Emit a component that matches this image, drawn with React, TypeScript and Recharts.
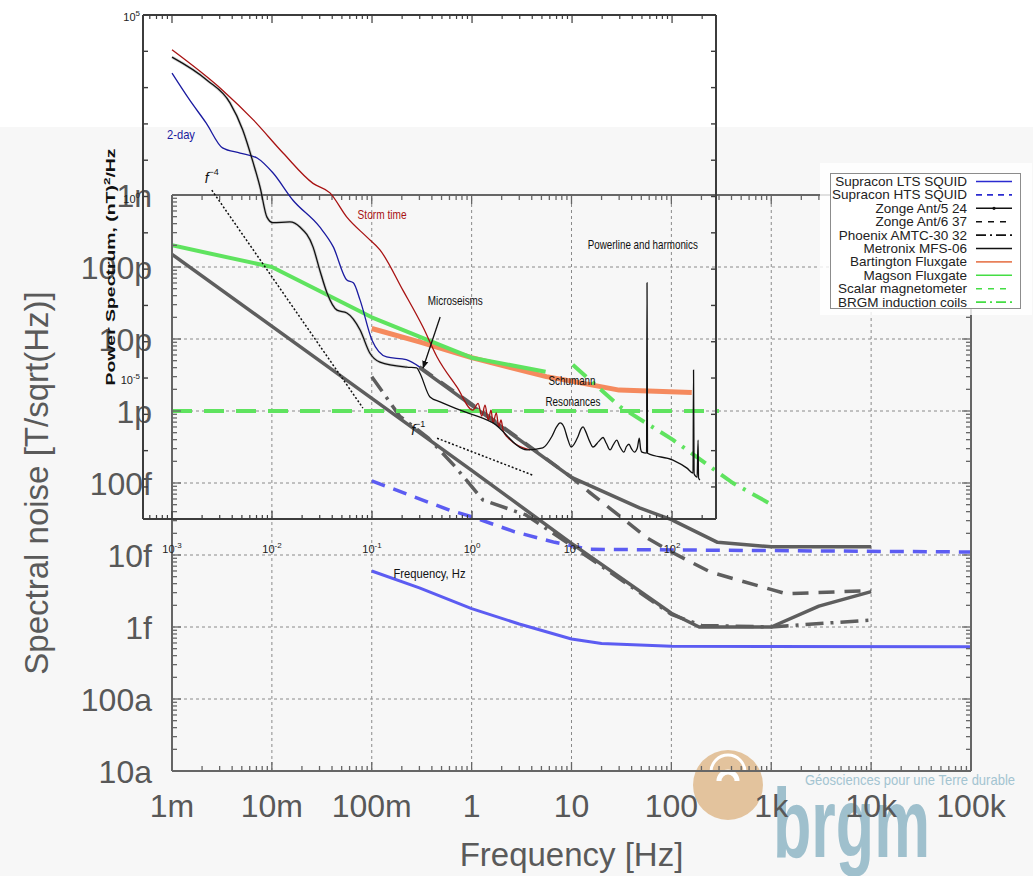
import React from 'react';
import { LineChart, Line, XAxis, YAxis, ReferenceLine, ReferenceDot, Legend } from 'recharts';

const W = 1033;
const H = 876;
const SANS = '"Liberation Sans", Arial, Helvetica, sans-serif';
const NARROW = '"Liberation Sans Narrow", "Liberation Sans", Arial, sans-serif';

// ---------------- main chart: axes ----------------
const xMajorTicks = [1e-3, 1e-2, 1e-1, 1, 10, 100, 1e3, 1e4, 1e5];
const xTickLabels = ['1m', '10m', '100m', '1', '10', '100', '1k', '10k', '100k'];
const yMajorTicks = [1e-9, 1e-10, 1e-11, 1e-12, 1e-13, 1e-14, 1e-15, 1e-16, 1e-17];
const yTickLabels = ['1n', '100p', '10p', '1p', '100f', '10f', '1f', '100a', '10a'];

// ---------------- main chart: series (T/sqrt(Hz)) ----------------
const ltsFreq = [0.1, 0.3, 1, 3, 10, 20, 100, 1e5];
const ltsNoise = [6.0e-15, 3.5e-15, 1.8e-15, 1.1e-15, 6.8e-16, 5.9e-16, 5.4e-16, 5.3e-16];
const htsFreq = [0.1, 0.6, 1, 2.7, 6.8, 15, 1e5];
const htsNoise = [1.07e-13, 4.2e-14, 3.4e-14, 2.1e-14, 1.5e-14, 1.2e-14, 1.1e-14];
const zonge5Freq = [1e-3, 1, 10, 100, 190, 1000, 3000, 1e4];
const zonge5Noise = [1.5e-10, 1.5e-13, 1.45e-14, 1.55e-15, 1.0e-15, 1.0e-15, 1.95e-15, 3.1e-15];
const zonge6Freq = [0.3, 1, 3, 10, 15, 20, 58, 100, 245, 1400, 1e4];
const zonge6Noise = [4.1e-12, 1.25e-12, 4.1e-13, 1.2e-13, 7.5e-14, 5.5e-14, 1.7e-14, 1.1e-14, 5.8e-15, 2.9e-15, 3.2e-15];
const phoenixFreq = [0.1, 0.19, 0.37, 0.68, 1.3, 3.5, 10, 52, 100, 200, 1000, 1e4];
const phoenixNoise = [3.0e-12, 8.5e-13, 4.2e-13, 1.7e-13, 5.8e-14, 3.6e-14, 1.35e-14, 2.8e-15, 1.5e-15, 1.05e-15, 1.0e-15, 1.25e-15];
const metronixFreq = [0.3, 1, 3, 10, 48, 100, 290, 1000, 1e4];
const metronixNoise = [4.0e-12, 1.2e-12, 4.0e-13, 1.2e-13, 4.5e-14, 3.1e-14, 1.5e-14, 1.3e-14, 1.3e-14];
const bartingtonFreq = [0.1, 0.3, 1, 5.6, 10, 30, 160];
const bartingtonNoise = [1.4e-11, 9.1e-12, 5.5e-12, 3.0e-12, 2.6e-12, 1.95e-12, 1.8e-12];
const magsonFreq = [1e-3, 1e-2, 0.1, 0.48, 1, 5.5];
const magsonNoise = [2.0e-10, 1.0e-10, 2.0e-11, 8.3e-12, 5.5e-12, 3.5e-12];
const scalarFreq = [1e-3, 300];
const scalarNoise = [1e-12, 1e-12];
const brgmFreq = [10.3, 30.5, 103, 413, 1040];
const brgmNoise = [4.4e-12, 1.15e-12, 4.0e-13, 1.0e-13, 4.9e-14];

// ---------------- inset: power spectrum (nT^2/Hz) ----------------
const insetXMajor = [1e-3, 1e-2, 1e-1, 1, 10, 100];
const insetXExp = ['-3', '-2', '-1', '0', '1', '2'];
const insetYLabelTicks = [1e5, 1, 1e-5];
const insetYExp = ['5', '0', '-5'];

const stormFreq = [0.001, 0.0032, 0.0065, 0.0129, 0.0257, 0.038, 0.056, 0.089, 0.12, 0.204, 0.324, 0.447, 0.708, 1.02, 1.15, 1.25, 1.35, 1.45, 1.55, 1.62, 1.75, 1.85, 1.95, 2.05, 2.24, 3.8];
const stormPower = [1.1e4, 850, 129, 15.8, 2.3, 1.26, 0.27, 0.076, 0.034, 2.6e-3, 2.5e-4, 3.8e-5, 5.6e-6, 1.3e-6, 2.0e-6, 9e-7, 1.8e-6, 7e-7, 1.3e-6, 5.8e-7, 1.1e-6, 4.5e-7, 7e-7, 3.5e-7, 2.4e-7, 1.05e-7];
const twoDayFreq = [0.001, 0.0015, 0.0022, 0.0032, 0.0048, 0.0071, 0.0102, 0.0162, 0.030, 0.041, 0.056, 0.065, 0.076, 0.10, 0.14, 0.22, 0.30];
const twoDayPower = [2.5e3, 457, 105, 21.9, 15.8, 11.5, 4.5, 0.79, 0.145, 0.041, 5.0e-3, 4.2e-3, 1.4e-3, 1.1e-4, 3.8e-5, 3.2e-5, 2.0e-5];
const quietFreq = [0.001, 0.00224, 0.0038, 0.0051, 0.0065, 0.0076, 0.0089, 0.0102, 0.0151, 0.019, 0.0257, 0.030, 0.0355, 0.0447, 0.056, 0.076, 0.095, 0.12, 0.224, 0.28, 0.30, 0.38, 0.48, 0.76, 1.62, 3.55, 5.1, 6.3, 7.0, 7.6, 8.3, 9.0, 9.8, 11.5, 12.3, 12.9, 13.6, 15, 16.2, 18.5, 20.4, 22, 24, 26, 28, 30, 33, 35, 37, 39.5, 42, 45, 47, 48.5, 50, 55.6, 56.2, 56.8, 102, 141, 162, 164, 166, 178, 182, 184, 190];
const quietPower = [6.9e3, 1.6e3, 380, 68, 8.3, 1.8, 0.27, 0.19, 0.20, 0.145, 0.041, 9.5e-3, 2.2e-3, 7.4e-4, 6.2e-4, 2.1e-4, 4.9e-5, 2.75e-5, 2.0e-5, 1.9e-5, 1.4e-5, 3.0e-6, 2.2e-6, 1.3e-6, 5.8e-7, 1.05e-7, 1.2e-7, 2.5e-7, 4.5e-7, 5.8e-7, 4.5e-7, 2.2e-7, 1.26e-7, 2.5e-7, 4.0e-7, 4.5e-7, 3.5e-7, 1.8e-7, 1.26e-7, 1.8e-7, 2.3e-7, 1.6e-7, 1.05e-7, 1.5e-7, 1.95e-7, 1.3e-7, 9.1e-8, 1.3e-7, 1.5e-7, 1.1e-7, 9.1e-8, 1.2e-7, 2.2e-7, 1.1e-7, 9.1e-8, 8.5e-8, 4.2e-3, 8.5e-8, 5.5e-8, 3.3e-8, 2.4e-8, 1.66e-5, 2.3e-8, 1.86e-8, 1.95e-7, 1.78e-8, 1.55e-8];
const fMinus4Freq = [0.0025, 0.081];
const fMinus4Power = [1.5, 1.5e-6];
const fMinus1Freq = [0.447, 4.07];
const fMinus1Power = [2.2e-7, 2.1e-8];
const arrowFreq = [0.48, 0.324];
const arrowPower = [4.8e-4, 1.9e-5];

const noteText = ['2-day', 'Storm time', 'Microseisms', 'Powerline and harmonics', 'Schumann', 'Resonances'];
const noteFreq = [0.00123, 0.126, 0.68, 51, 10, 10.2];
const notePower = [52, 0.31, 1.4e-3, 0.049, 8.8e-6, 2.3e-6];
const noteColor = ['#1a1aa0', '#a81212', '#111', '#111', '#111', '#111'];
const noteWidth = [28, 49, 55, 110, 47, 55];
const powerLawText = ['\u22124', '\u22121'];
const powerLawFreq = [0.0025, 0.29];
const powerLawPower = [3.2, 3.7e-7];

// ---------------- helpers ----------------
const pts = (f: number[], v: number[]) => f.map((x, i) => ({ f: x, v: v[i] }));
const lg = (v: number) => Math.log10(v);
const majorIndex = (v: number, majors: number[]) => majors.findIndex((m) => Math.abs(lg(m) - lg(v)) < 1e-6);
const buildTicks = (a: number, b: number) => {
  const t: number[] = [];
  for (let d = a; d <= b; d++) {
    t.push(Math.pow(10, d));
    if (d < b) for (let k = 2; k <= 9; k++) t.push(k * Math.pow(10, d));
  }
  return t;
};
const mainXTicks = buildTicks(-3, 5);
const mainYTicks = buildTicks(-17, -9);
const insetXTicks = [6e-4, 7e-4, 8e-4, 9e-4, ...buildTicks(-3, 2), 200];
const insetYTicks: number[] = [];
for (let d = -8; d <= 5; d++) insetYTicks.push(Math.pow(10, d));

const mainSeries = [
  { name: 'Supracon LTS SQUID', data: pts(ltsFreq, ltsNoise), color: '#5c5cf2', width: 3, dash: undefined, lc: '#2b2bd0', ld: undefined },
  { name: 'Supracon HTS SQUID', data: pts(htsFreq, htsNoise), color: '#5c5cf2', width: 3.5, dash: '14 9', lc: '#2b2bd0', ld: '6 5' },
  { name: 'Zonge Ant/5 24', data: pts(zonge5Freq, zonge5Noise), color: '#5e5e5e', width: 3.5, dash: undefined, lc: '#111', ld: undefined },
  { name: 'Zonge Ant/6 37', data: pts(zonge6Freq, zonge6Noise), color: '#5e5e5e', width: 3.5, dash: '16 10', lc: '#111', ld: '6 6' },
  { name: 'Phoenix AMTC-30 32', data: pts(phoenixFreq, phoenixNoise), color: '#5e5e5e', width: 3.5, dash: '18 7 3 7', lc: '#111', ld: '10 4 2 4' },
  { name: 'Metronix MFS-06', data: pts(metronixFreq, metronixNoise), color: '#5e5e5e', width: 3.5, dash: undefined, lc: '#111', ld: undefined },
  { name: 'Bartington Fluxgate', data: pts(bartingtonFreq, bartingtonNoise), color: '#f58a5e', width: 5, dash: undefined, lc: '#e8805a', ld: undefined },
  { name: 'Magson Fluxgate', data: pts(magsonFreq, magsonNoise), color: '#5fe35f', width: 4, dash: undefined, lc: '#44dd44', ld: undefined },
  { name: 'Scalar magnetometer', data: pts(scalarFreq, scalarNoise), color: '#5fe35f', width: 4, dash: '20 12', lc: '#44dd44', ld: '6 6' },
  { name: 'BRGM induction coils', data: pts(brgmFreq, brgmNoise), color: '#5fe35f', width: 4, dash: '18 8 3 8', lc: '#44dd44', ld: '10 4 2 4' },
];

// ---------------- tick renderers ----------------
const AXIS = '#666';
const TICK_FONT = 32;
const MainBottomTick = (p: any) => {
  const mi = majorIndex(p.payload.value, xMajorTicks);
  return (
    <g>
      <line x1={p.x} x2={p.x} y1={p.y} y2={p.y - (mi >= 0 ? 9 : 5)} stroke={AXIS} strokeWidth={1.3} />
      {mi >= 0 && (
        <text x={p.x} y={p.y + 46} textAnchor="middle" fontSize={TICK_FONT} fill="#585858" fontFamily={SANS}>{xTickLabels[mi]}</text>
      )}
    </g>
  );
};
const MainTopTick = (p: any) => {
  const mi = majorIndex(p.payload.value, xMajorTicks);
  return <line x1={p.x} x2={p.x} y1={p.y} y2={p.y + (mi >= 0 ? 9 : 5)} stroke={AXIS} strokeWidth={1.3} />;
};
const MainLeftTick = (p: any) => {
  const mi = majorIndex(p.payload.value, yMajorTicks);
  return (
    <g>
      <line x1={p.x} x2={p.x + (mi >= 0 ? 9 : 5)} y1={p.y} y2={p.y} stroke={AXIS} strokeWidth={1.3} />
      {mi >= 0 && (
        <text x={p.x - 20} y={p.y + 11.5} textAnchor="end" fontSize={TICK_FONT} fill="#585858" fontFamily={SANS}>{yTickLabels[mi]}</text>
      )}
    </g>
  );
};
const MainRightTick = (p: any) => {
  const mi = majorIndex(p.payload.value, yMajorTicks);
  return <line x1={p.x} x2={p.x - (mi >= 0 ? 9 : 5)} y1={p.y} y2={p.y} stroke={AXIS} strokeWidth={1.3} />;
};

const INK = '#3c3c3c';
const InsetBottomTick = (p: any) => {
  const mi = majorIndex(p.payload.value, insetXMajor);
  return (
    <g>
      <line x1={p.x} x2={p.x} y1={p.y} y2={p.y - (mi >= 0 ? 8 : 4)} stroke={INK} strokeWidth={1.2} />
      {mi >= 0 && (
        <text x={p.x} y={p.y + 34} textAnchor="middle" fontSize={11} fill="#222" fontFamily={NARROW}>
          <tspan>10</tspan>
          <tspan dy={-5} fontSize={8}>{insetXExp[mi]}</tspan>
        </text>
      )}
    </g>
  );
};
const InsetTopTick = (p: any) => {
  const mi = majorIndex(p.payload.value, insetXMajor);
  return <line x1={p.x} x2={p.x} y1={p.y} y2={p.y + (mi >= 0 ? 8 : 4)} stroke={INK} strokeWidth={1.2} />;
};
const InsetLeftTick = (p: any) => {
  const mi = majorIndex(p.payload.value, insetYLabelTicks);
  return (
    <g>
      <line x1={p.x} x2={p.x + 5} y1={p.y} y2={p.y} stroke={INK} strokeWidth={1.4} />
      {mi >= 0 && (
        <text x={p.x - 3} y={p.y + 6} textAnchor="end" fontSize={11} fill="#222" fontFamily={NARROW}>
          <tspan>10</tspan>
          <tspan dy={-5} fontSize={8}>{insetYExp[mi]}</tspan>
        </text>
      )}
    </g>
  );
};
const InsetRightTick = (p: any) => <line x1={p.x} x2={p.x - 5} y1={p.y} y2={p.y} stroke={INK} strokeWidth={1.4} />;

// ---------------- labels ----------------
const mainXTitle = (p: any) => {
  const vb = p.viewBox || { x: 172, y: 771, width: 799, height: 0 };
  return (
    <text x={vb.x + vb.width / 2} y={vb.y + 95} textAnchor="middle" fontSize={33} fill="#5a5a5a" fontFamily={SANS}>Frequency [Hz]</text>
  );
};
const mainYTitle = (p: any) => {
  const vb = p.viewBox || { x: 171, y: 195, width: 1, height: 576 };
  const x = vb.x - 123;
  const y = vb.y + vb.height / 2;
  return (
    <text x={x} y={y} transform={`rotate(-90 ${x} ${y})`} textAnchor="middle" fontSize={33} fill="#5a5a5a" fontFamily={SANS}>Spectral noise [T/sqrt(Hz)]</text>
  );
};
const insetXTitle = (p: any) => {
  const vb = p.viewBox || { x: 143, y: 519, width: 573, height: 1 };
  return (
    <text x={vb.x + vb.width / 2} y={vb.y + 59} textAnchor="middle" fontSize={13} fill="#111" fontFamily={NARROW} textLength={72} lengthAdjust="spacingAndGlyphs">Frequency, Hz</text>
  );
};
const insetYTitle = (p: any) => {
  const vb = p.viewBox || { x: 142, y: 15, width: 1, height: 504 };
  const x = vb.x - 27;
  const y = vb.y + vb.height / 2;
  return (
    <text x={x} y={y} transform={`rotate(-90 ${x} ${y})`} textAnchor="middle" fontSize={13} fontWeight="bold" fill="#111" fontFamily={SANS} textLength={237} lengthAdjust="spacingAndGlyphs">
      Power Spectrum, (nT)<tspan dy={-5} fontSize={9}>2</tspan><tspan dy={5}>/Hz</tspan>
    </text>
  );
};

const NoteLabel = (p: any) => {
  const vb = p.viewBox || { x: 0, y: 0 };
  const i = p.idx;
  return (
    <text x={vb.x} y={vb.y} textAnchor="middle" dominantBaseline="central" fontSize={13} fill={noteColor[i]} fontFamily={NARROW} textLength={noteWidth[i]} lengthAdjust="spacingAndGlyphs">{noteText[i]}</text>
  );
};
const PowerLawLabel = (p: any) => {
  const vb = p.viewBox || { x: 0, y: 0 };
  const i = p.idx;
  return (
    <text x={vb.x} y={vb.y + 5} textAnchor="middle" fontSize={14} fill="#111" fontFamily={SANS}>
      <tspan fontStyle="italic">f</tspan>
      <tspan dy={-8} fontSize={9}>{powerLawText[i]}</tspan>
    </text>
  );
};

const LegendBox = () => (
  <svg width={212} height={152} style={{ display: 'block' }}>
    <rect x={0} y={0} width={212} height={152} fill="#ffffff" opacity={0.8} />
    <rect x={10.5} y={10.5} width={190} height={135} fill="#fff" stroke="#8c8c8c" strokeWidth={1} />
    {mainSeries.map((s, i) => {
      const cy = 18.5 + i * 13.4;
      return (
        <g key={s.name}>
          <text x={147} y={cy} textAnchor="end" dominantBaseline="central" fontSize={13.5} fill="#222" fontFamily={SANS}>{s.name}</text>
          <line x1={156} x2={192} y1={cy} y2={cy} stroke={s.lc} strokeWidth={1.6} strokeDasharray={s.ld} />
          {i === 2 && <circle cx={174} cy={cy} r={1.6} fill={s.lc} />}
        </g>
      );
    })}
  </svg>
);

const xGrid = xMajorTicks.slice(1, -1);
const yGrid = yMajorTicks.slice(1, -1);

export default function App() {
  const quiet = pts(quietFreq, quietPower);
  return (
    <div
      style={{
        position: 'absolute', left: 0, top: 0, width: W, height: H, overflow: 'hidden',
        background: 'linear-gradient(#ffffff 0px, #ffffff 127px, #f7f7f7 127px, #f7f7f7 100%)',
      }}
    >
      <svg width={0} height={0} style={{ position: 'absolute' }}>
        <defs>
          <marker id="arrowHead" viewBox="0 0 10 10" refX={9} refY={5} markerWidth={6} markerHeight={6} orient="auto">
            <path d="M0,1 L10,5 L0,9 z" fill="#111" />
          </marker>
        </defs>
      </svg>

      {/* logo */}
      <svg width={W} height={H} style={{ position: 'absolute', left: 0, top: 0 }}>
        <circle cx={728} cy={785} r={35} fill="#e3c39d" />
        <path d="M 711 772 A 17 17 0 0 1 745 772" stroke="#fff" strokeWidth={3} fill="none" />
        <path d="M 719 781 A 9 9 0 0 1 737 781" stroke="#fff" strokeWidth={5} fill="none" />
        <text x={773} y={857} fontSize={98} fontWeight="bold" fill="#9fc0cd" fontFamily={NARROW} textLength={157} lengthAdjust="spacingAndGlyphs">brgm</text>
        <text x={805} y={785} fontSize={15} fill="#a3c4d1" fontFamily={NARROW} textLength={210} lengthAdjust="spacingAndGlyphs">Géosciences pour une Terre durable</text>
      </svg>

      {/* main chart */}
      <div style={{ position: 'absolute', left: 0, top: 0, width: W, height: H }}>
        <LineChart width={W} height={H} margin={{ top: 194, right: 61, bottom: 104, left: 171 }}>
          {xGrid.map((v) => (
            <ReferenceLine key={'gx' + v} xAxisId="b" yAxisId="l" x={v} stroke="#8a8a8a" strokeWidth={1} strokeDasharray="3 3" />
          ))}
          {yGrid.map((v) => (
            <ReferenceLine key={'gy' + v} xAxisId="b" yAxisId="l" y={v} stroke="#8a8a8a" strokeWidth={1} strokeDasharray="3 3" />
          ))}
          <XAxis xAxisId="b" type="number" dataKey="f" scale="log" domain={[1e-3, 1e5]} allowDataOverflow ticks={mainXTicks} interval={0}
            tickLine={false} tickSize={0} tickMargin={0} height={1} axisLine={{ stroke: AXIS, strokeWidth: 2 }} tick={<MainBottomTick />} label={mainXTitle} />
          <XAxis xAxisId="t" orientation="top" type="number" dataKey="f" scale="log" domain={[1e-3, 1e5]} allowDataOverflow ticks={mainXTicks} interval={0}
            tickLine={false} tickSize={0} tickMargin={0} height={1} axisLine={{ stroke: AXIS, strokeWidth: 2 }} tick={<MainTopTick />} />
          <YAxis yAxisId="l" type="number" scale="log" domain={[1e-17, 1e-9]} allowDataOverflow ticks={mainYTicks} interval={0}
            tickLine={false} tickSize={0} tickMargin={0} width={1} axisLine={{ stroke: AXIS, strokeWidth: 2 }} tick={<MainLeftTick />} label={mainYTitle} />
          <YAxis yAxisId="r" orientation="right" type="number" scale="log" domain={[1e-17, 1e-9]} allowDataOverflow ticks={mainYTicks} interval={0}
            tickLine={false} tickSize={0} tickMargin={0} width={1} axisLine={{ stroke: AXIS, strokeWidth: 2 }} tick={<MainRightTick />} />
          {mainSeries.map((s) => (
            <Line key={s.name} name={s.name} xAxisId="b" yAxisId="l" data={s.data} dataKey="v" type="linear" stroke={s.color}
              strokeWidth={s.width} strokeDasharray={s.dash} dot={false} activeDot={false} isAnimationActive={false} strokeLinejoin="round" />
          ))}
          <Legend content={LegendBox} layout="horizontal" verticalAlign="middle" align="center"
            wrapperStyle={{ left: 820, top: 163, width: 212, height: 152 }} />
        </LineChart>
      </div>

      {/* inset chart */}
      <div style={{ position: 'absolute', left: 0, top: 0, width: W, height: H }}>
        <LineChart width={W} height={H} margin={{ top: 14, right: 316, bottom: 356, left: 142 }}>
          <XAxis xAxisId="ib" type="number" dataKey="f" scale="log" domain={[5.13e-4, 275]} allowDataOverflow ticks={insetXTicks} interval={0}
            tickLine={false} tickSize={0} tickMargin={0} height={1} axisLine={{ stroke: INK, strokeWidth: 2 }} tick={<InsetBottomTick />} label={insetXTitle} />
          <XAxis xAxisId="it" orientation="top" type="number" dataKey="f" scale="log" domain={[5.13e-4, 275]} allowDataOverflow ticks={insetXTicks} interval={0}
            tickLine={false} tickSize={0} tickMargin={0} height={1} axisLine={{ stroke: INK, strokeWidth: 2 }} tick={<InsetTopTick />} />
          <YAxis yAxisId="il" type="number" scale="log" domain={[1.31e-9, 1e5]} allowDataOverflow ticks={insetYTicks} interval={0}
            tickLine={false} tickSize={0} tickMargin={0} width={1} axisLine={{ stroke: INK, strokeWidth: 2 }} tick={<InsetLeftTick />} label={insetYTitle} />
          <YAxis yAxisId="ir" orientation="right" type="number" scale="log" domain={[1.31e-9, 1e5]} allowDataOverflow ticks={insetYTicks} interval={0}
            tickLine={false} tickSize={0} tickMargin={0} width={1} axisLine={{ stroke: INK, strokeWidth: 2 }} tick={<InsetRightTick />} />

          <Line xAxisId="ib" yAxisId="il" data={quiet.slice(0, 19)} dataKey="v" type="monotone" stroke="#999" strokeOpacity={0.4} strokeWidth={3}
            dot={false} activeDot={false} isAnimationActive={false} />
          <Line xAxisId="ib" yAxisId="il" data={pts(stormFreq, stormPower)} dataKey="v" type="monotone" stroke="#a81212" strokeWidth={1.3}
            dot={false} activeDot={false} isAnimationActive={false} />
          <Line xAxisId="ib" yAxisId="il" data={pts(twoDayFreq, twoDayPower)} dataKey="v" type="monotone" stroke="#1a1aa0" strokeWidth={1.3}
            dot={false} activeDot={false} isAnimationActive={false} />
          <Line xAxisId="ib" yAxisId="il" data={quiet} dataKey="v" type="monotone" stroke="#111" strokeWidth={1.3}
            dot={false} activeDot={false} isAnimationActive={false} />
          <Line xAxisId="ib" yAxisId="il" data={pts(fMinus4Freq, fMinus4Power)} dataKey="v" type="linear" stroke="#111" strokeWidth={1.5} strokeDasharray="2 2"
            dot={false} activeDot={false} isAnimationActive={false} />
          <Line xAxisId="ib" yAxisId="il" data={pts(fMinus1Freq, fMinus1Power)} dataKey="v" type="linear" stroke="#111" strokeWidth={1.5} strokeDasharray="2 2"
            dot={false} activeDot={false} isAnimationActive={false} />
          <Line xAxisId="ib" yAxisId="il" data={pts(arrowFreq, arrowPower)} dataKey="v" type="linear" stroke="#111" strokeWidth={1.3}
            markerEnd="url(#arrowHead)" dot={false} activeDot={false} isAnimationActive={false} />

          {noteText.map((t, i) => (
            <ReferenceDot key={'n' + i} xAxisId="ib" yAxisId="il" x={noteFreq[i]} y={notePower[i]} r={0} fill="none" stroke="none"
              label={(lp: any) => <NoteLabel {...lp} idx={i} />} />
          ))}
          {powerLawText.map((t, i) => (
            <ReferenceDot key={'pl' + i} xAxisId="ib" yAxisId="il" x={powerLawFreq[i]} y={powerLawPower[i]} r={0} fill="none" stroke="none"
              label={(lp: any) => <PowerLawLabel {...lp} idx={i} />} />
          ))}
        </LineChart>
      </div>
    </div>
  );
}
